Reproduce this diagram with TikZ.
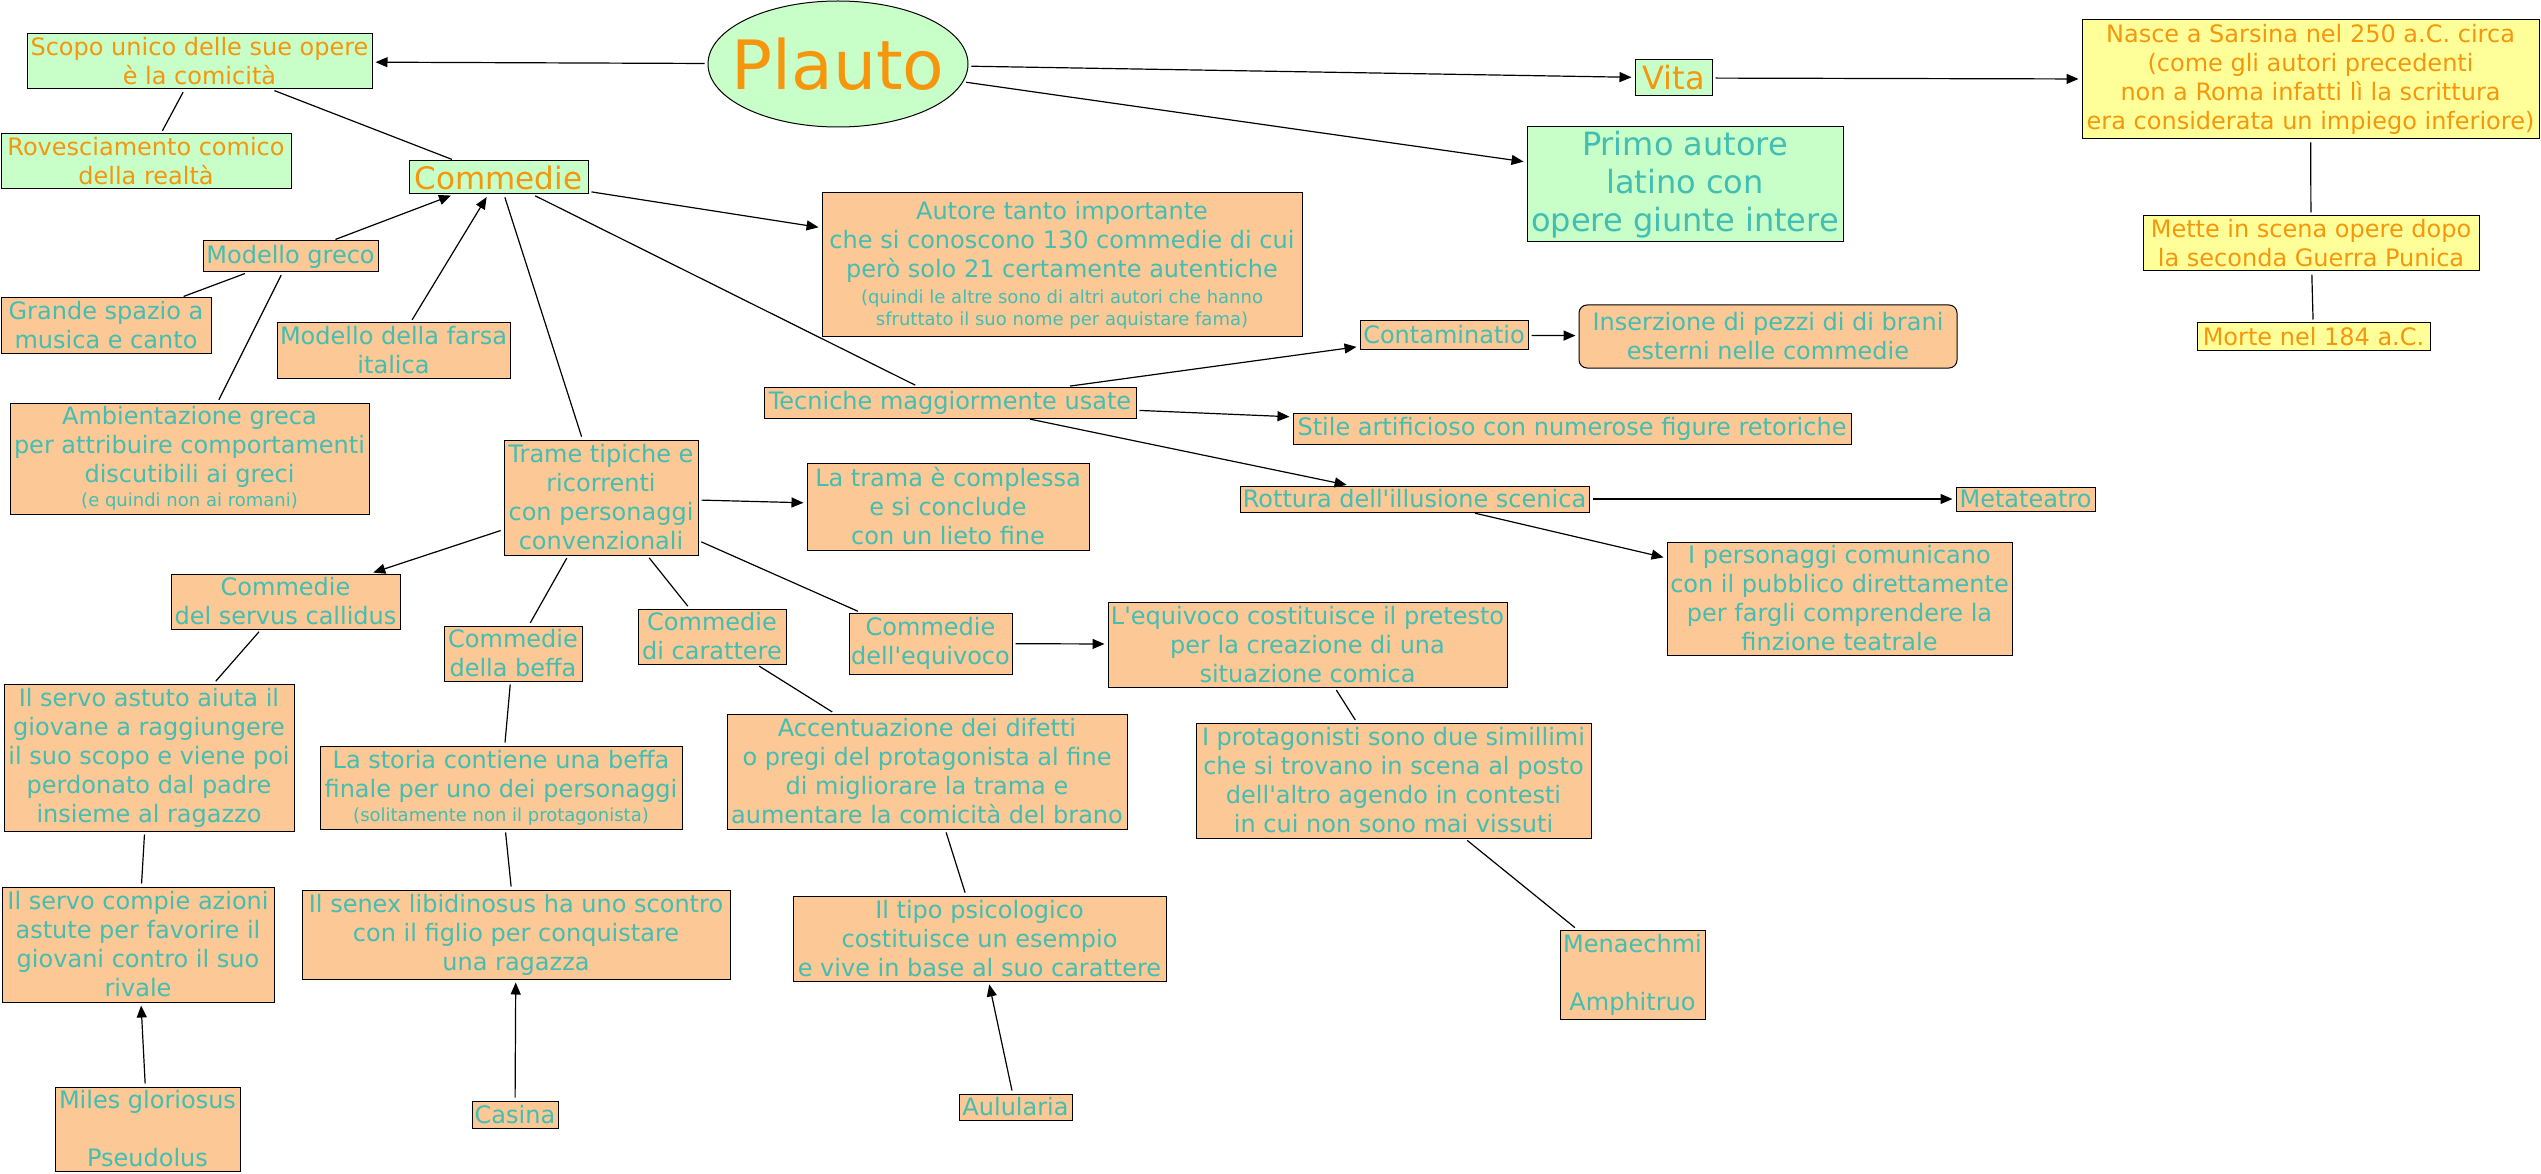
\documentclass[tikz,border=0pt]{standalone}
\usepackage{fontspec}
\setmainfont{DejaVu Sans}
\usetikzlibrary{arrows.meta,shapes.geometric}
\definecolor{peach}{RGB}{252,200,150}
\definecolor{mint}{RGB}{200,255,200}
\definecolor{lemon}{RGB}{255,255,153}
\definecolor{tealtxt}{RGB}{66,190,178}
\definecolor{orangetxt}{RGB}{245,150,12}
\newcommand\mybox[7]{\node[#2,minimum width={(#5)-(#3)},minimum height={(#6)-(#4)}] (#1) at ({((#3)+(#5))/2},{((#4)+(#6))/2}) {#7};}
\newcommand\smalltxt{\fontsize{18}{22}\selectfont}
\newcommand\aq{\textquotesingle}
\tikzset{
  basebox/.style={draw=black, line width=1pt, inner sep=0pt, align=center, font=\fontsize{24}{29}\selectfont},
  pbox/.style={basebox, fill=peach, text=tealtxt},
  gbox/.style={basebox, fill=mint, text=orangetxt},
  gtbox/.style={basebox, fill=mint, text=tealtxt},
  ybox/.style={basebox, fill=lemon, text=orangetxt},
  big/.style={font=\fontsize{32}{38}\selectfont},
  link/.style={line width=1.2pt, shorten <=3pt, shorten >=3pt},
  arr/.style={link, -{Triangle[length=12pt,width=10pt]}},
}
\begin{document}
\begin{tikzpicture}[x=1pt,y=-1pt]
\path[use as bounding box, fill=white] (0,0) rectangle (2541,1174);

\node[ellipse, draw=black, line width=1pt, fill=mint, text=orangetxt, inner xsep=-20pt, inner ysep=0pt,
      minimum width=260, minimum height=126, font=\fontsize{68}{80}\selectfont] (plauto) at (838,64) {Plauto};

\mybox{scopo}{gbox}{27}{34}{372}{89}{Scopo unico delle sue opere\\è la comicità}
\mybox{rove}{gbox}{1}{134}{291}{189}{Rovesciamento comico\\della realtà}
\mybox{commedie}{gbox,font=\fontsize{31}{36}\selectfont}{409}{161}{588}{194}{Commedie}
\mybox{greco}{pbox}{203}{241}{378}{272}{Modello greco}
\mybox{grande}{pbox}{1}{298}{211}{353}{Grande spazio a\\musica e canto}
\mybox{farsa}{pbox}{277}{323}{510}{378}{Modello della farsa\\italica}
\mybox{autore}{pbox}{822}{193}{1302}{337}{Autore tanto importante\\che si conoscono 130 commedie di cui\\però solo 21 certamente autentiche\\[-3pt]\smalltxt(quindi le altre sono di altri autori che hanno\\[-7pt]\smalltxt sfruttato il suo nome per aquistare fama)}
\mybox{ambient}{pbox}{10}{403}{369}{514}{Ambientazione greca\\per attribuire comportamenti\\discutibili ai greci\\[-5pt]\smalltxt(e quindi non ai romani)}
\mybox{trame}{pbox}{504}{440}{698}{555}{Trame tipiche e\\ricorrenti\\con personaggi\\convenzionali}
\mybox{servus}{pbox}{171}{574}{400}{629}{Commedie\\del servus callidus}
\mybox{beffa}{pbox}{444}{626}{582}{681}{Commedie\\della beffa}
\mybox{caratt}{pbox}{638}{609}{786}{664}{Commedie\\di carattere}
\mybox{astuto}{pbox}{4}{684}{294}{831}{Il servo astuto aiuta il\\giovane a raggiungere\\il suo scopo e viene poi\\perdonato dal padre\\insieme al ragazzo}
\mybox{storia}{pbox}{320}{746}{682}{829}{La storia contiene una beffa\\finale per uno dei personaggi\\[-5pt]\smalltxt(solitamente non il protagonista)}
\mybox{compie}{pbox}{2}{887}{274}{1002}{Il servo compie azioni\\astute per favorire il\\giovani contro il suo\\rivale}
\mybox{senex}{pbox}{302}{890}{730}{979}{Il senex libidinosus ha uno scontro\\con il figlio per conquistare\\una ragazza}
\mybox{miles}{pbox}{55}{1087}{240}{1171}{Miles gloriosus\\~\\Pseudolus}
\mybox{casina}{pbox}{472}{1101}{558}{1128}{Casina}
\mybox{tecn}{pbox}{764}{387}{1136}{418}{Tecniche maggiormente usate}
\mybox{contam}{pbox}{1360}{321}{1528}{349}{Contaminatio}
\mybox{tramac}{pbox}{807}{463}{1089}{550}{La trama è complessa\\e si conclude\\con un lieto fine}
\mybox{rottura}{pbox}{1240}{486}{1589}{512}{Rottura dell\aq illusione scenica}
\mybox{equiv}{pbox}{849}{613}{1012}{674}{Commedie\\dell\aq equivoco}
\mybox{lequiv}{pbox}{1108}{602}{1507}{687}{L\aq equivoco costituisce il pretesto\\per la creazione di una\\situazione comica}
\mybox{inserz}{pbox,rounded corners=8pt}{1579}{305}{1957}{368}{Inserzione di pezzi di di brani\\esterni nelle commedie}
\mybox{stile}{pbox}{1293}{413}{1851}{444}{Stile artificioso con numerose figure retoriche}
\mybox{meta}{pbox}{1956}{487}{2095}{511}{Metateatro}
\mybox{perso}{pbox}{1667}{542}{2012}{655}{I personaggi comunicano\\con il pubblico direttamente\\per fargli comprendere la\\finzione teatrale}
\mybox{accent}{pbox}{727}{714}{1127}{829}{Accentuazione dei difetti\\o pregi del protagonista al fine\\di migliorare la trama e\\aumentare la comicità del brano}
\mybox{protag}{pbox}{1196}{723}{1591}{838}{I protagonisti sono due simillimi\\che si trovano in scena al posto\\dell\aq altro agendo in contesti\\in cui non sono mai vissuti}
\mybox{tipo}{pbox}{793}{896}{1166}{981}{Il tipo psicologico\\costituisce un esempio\\e vive in base al suo carattere}
\mybox{aulul}{pbox}{959}{1094}{1072}{1120}{Aulularia}
\mybox{menae}{pbox}{1560}{930}{1705}{1019}{Menaechmi\\~\\Amphitruo}
\mybox{vita}{gbox,font=\fontsize{32}{38}\selectfont}{1635}{60}{1712}{96}{Vita}
\mybox{primo}{gtbox,big}{1527}{127}{1843}{242}{Primo autore\\latino con\\opere giunte intere}
\mybox{nasce}{ybox}{2082}{20}{2539}{139}{Nasce a Sarsina nel 250 a.C. circa\\(come gli autori precedenti\\non a Roma infatti lì la scrittura\\era considerata un impiego inferiore)}
\mybox{mette}{ybox}{2143}{216}{2479}{271}{Mette in scena opere dopo\\la seconda Guerra Punica}
\mybox{morte}{ybox}{2197}{323}{2430}{350}{Morte nel 184 a.C.}

% arrows
\draw[arr] (plauto) -- (scopo);
\draw[arr] (plauto) -- (vita);
\draw[arr] (plauto) -- (primo);
\draw[arr] (vita) -- (nasce);
\draw[arr] (greco) -- (commedie);
\draw[arr] (farsa) -- (commedie);
\draw[arr] (commedie) -- (autore);
\draw[arr] (trame) -- (tramac);
\draw[arr] (trame) -- (servus);
\draw[arr] (miles) -- (compie);
\draw[arr] (casina) -- (senex);
\draw[arr] (aulul) -- (tipo);
\draw[arr] (equiv) -- (lequiv);
\draw[arr] (tecn) -- (contam);
\draw[arr] (contam) -- (inserz);
\draw[arr] (tecn) -- (stile);
\draw[arr] (tecn) -- (rottura);
\draw[arr] (rottura) -- (meta);
\draw[arr] (rottura) -- (perso);
% plain lines
\draw[link] (nasce) -- (mette);
\draw[link] (mette) -- (morte);
\draw[link] (scopo) -- (rove);
\draw[link] (scopo) -- (commedie);
\draw[link] (commedie) -- (trame);
\draw[link] (commedie) -- (tecn);
\draw[link] (greco) -- (grande);
\draw[link] (greco) -- (ambient);
\draw[link] (trame) -- (beffa);
\draw[link] (trame) -- (caratt);
\draw[link] (trame) -- (equiv);
\draw[link] (servus) -- (astuto);
\draw[link] (beffa) -- (storia);
\draw[link] (storia) -- (senex);
\draw[link] (astuto) -- (compie);
\draw[link] (caratt) -- (accent);
\draw[link] (accent) -- (tipo);
\draw[link] (lequiv) -- (protag);
\draw[link] (protag) -- (menae);
\end{tikzpicture}
\end{document}
